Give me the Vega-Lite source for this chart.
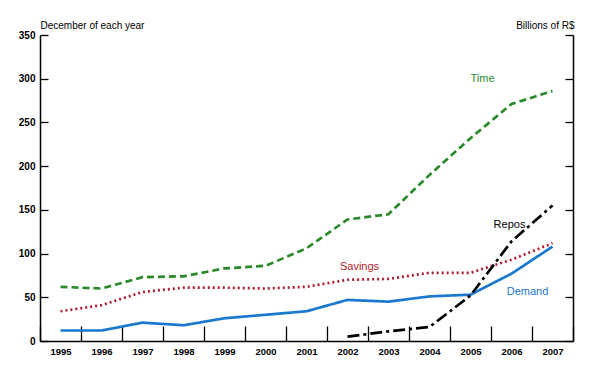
{
  "$schema": "https://vega.github.io/schema/vega-lite/v6.json",
  "width": 533,
  "height": 306,
  "autosize": "none",
  "padding": {"left": 40, "top": 35, "right": 27, "bottom": 24},
  "background": "white",
  "config": {
    "view": {"stroke": null},
    "font": "Liberation Sans",
    "axis": {"grid": false, "domainColor": "black", "domainWidth": 1.5, "tickColor": "black", "tickWidth": 1.3, "labelColor": "black", "labelFont": "Liberation Sans", "labelFontWeight": "bold", "labelFontSize": 10, "titleFont": "Liberation Sans", "titleFontWeight": "normal", "titleFontSize": 10, "titleColor": "black"}
  },
  "datasets": {
    "series": [
      {"year": "1995", "series": "Time", "value": 62},
      {"year": "1996", "series": "Time", "value": 60},
      {"year": "1997", "series": "Time", "value": 73},
      {"year": "1998", "series": "Time", "value": 74},
      {"year": "1999", "series": "Time", "value": 83},
      {"year": "2000", "series": "Time", "value": 86},
      {"year": "2001", "series": "Time", "value": 106},
      {"year": "2002", "series": "Time", "value": 139},
      {"year": "2003", "series": "Time", "value": 145},
      {"year": "2004", "series": "Time", "value": 190},
      {"year": "2005", "series": "Time", "value": 232},
      {"year": "2006", "series": "Time", "value": 271},
      {"year": "2007", "series": "Time", "value": 286},
      {"year": "1995", "series": "Savings", "value": 34},
      {"year": "1996", "series": "Savings", "value": 41},
      {"year": "1997", "series": "Savings", "value": 56},
      {"year": "1998", "series": "Savings", "value": 61},
      {"year": "1999", "series": "Savings", "value": 61},
      {"year": "2000", "series": "Savings", "value": 60},
      {"year": "2001", "series": "Savings", "value": 62},
      {"year": "2002", "series": "Savings", "value": 70},
      {"year": "2003", "series": "Savings", "value": 71},
      {"year": "2004", "series": "Savings", "value": 78},
      {"year": "2005", "series": "Savings", "value": 78},
      {"year": "2006", "series": "Savings", "value": 93},
      {"year": "2007", "series": "Savings", "value": 112},
      {"year": "1995", "series": "Demand", "value": 12},
      {"year": "1996", "series": "Demand", "value": 12},
      {"year": "1997", "series": "Demand", "value": 21},
      {"year": "1998", "series": "Demand", "value": 18},
      {"year": "1999", "series": "Demand", "value": 26},
      {"year": "2000", "series": "Demand", "value": 30},
      {"year": "2001", "series": "Demand", "value": 34},
      {"year": "2002", "series": "Demand", "value": 47},
      {"year": "2003", "series": "Demand", "value": 45},
      {"year": "2004", "series": "Demand", "value": 51},
      {"year": "2005", "series": "Demand", "value": 53},
      {"year": "2006", "series": "Demand", "value": 77},
      {"year": "2007", "series": "Demand", "value": 108},
      {"year": "2002", "series": "Repos", "value": 5},
      {"year": "2003", "series": "Repos", "value": 11},
      {"year": "2004", "series": "Repos", "value": 16},
      {"year": "2005", "series": "Repos", "value": 52},
      {"year": "2006", "series": "Repos", "value": 114},
      {"year": "2007", "series": "Repos", "value": 155}
    ]
  },
  "encoding": {
    "x": {
      "field": "year", "type": "ordinal",
      "scale": {"type": "band", "paddingInner": 0, "paddingOuter": 0},
      "bandPosition": 0.5,
      "axis": {"title": null, "labelAngle": 0, "tickBand": "extent", "tickSize": -15, "labelPadding": 20, "labelFontSize": 9.5}
    }
  },
  "layer": [
    {
      "data": {"name": "series"},
      "mark": {"type": "line", "strokeWidth": 2.7, "interpolate": "linear"},
      "encoding": {
        "y": {"field": "value", "type": "quantitative", "scale": {"domain": [0, 350], "nice": false},
          "axis": {"orient": "left", "values": [0, 50, 100, 150, 200, 250, 300, 350], "tickSize": -8, "labelPadding": 13, "title": "December of each year", "titleAngle": 0, "titleAlign": "left", "titleBaseline": "bottom", "titleX": 0, "titleY": -5}},
        "color": {"field": "series", "type": "nominal", "legend": null,
          "scale": {"domain": ["Time", "Savings", "Demand", "Repos"], "range": ["#2a8a2a", "#b01c2e", "#1a78cf", "#000000"]}},
        "strokeDash": {"field": "series", "type": "nominal", "legend": null,
          "scale": {"domain": ["Time", "Savings", "Demand", "Repos"], "range": [[7, 4], [2, 3], [1, 0], [12, 4, 3, 4]]}},
        "detail": {"field": "series"}
      }
    },
    {
      "data": {"name": "series"},
      "mark": {"type": "line", "opacity": 0},
      "encoding": {
        "y": {"field": "value", "type": "quantitative", "scale": {"domain": [0, 350], "nice": false},
          "axis": {"orient": "right", "values": [0, 50, 100, 150, 200, 250, 300, 350], "tickSize": -8, "labels": false, "title": "Billions of R$", "titleAngle": 0, "titleAlign": "right", "titleBaseline": "bottom", "titleX": 1, "titleY": -5}},
        "detail": {"field": "series"}
      }
    },
    {
      "data": {"values": [{"year": "2005", "value": 300, "label": "Time"}]},
      "mark": {"type": "text", "fontSize": 11, "color": "#2a8a2a", "dx": 12},
      "encoding": {"text": {"field": "label"}, "y": {"field": "value", "type": "quantitative", "axis": null}}
    },
    {
      "data": {"values": [{"year": "2002", "value": 85, "label": "Savings"}]},
      "mark": {"type": "text", "fontSize": 11, "color": "#b01c2e", "dx": 12},
      "encoding": {"text": {"field": "label"}, "y": {"field": "value", "type": "quantitative", "axis": null}}
    },
    {
      "data": {"values": [{"year": "2006", "value": 133, "label": "Repos"}]},
      "mark": {"type": "text", "fontSize": 11, "color": "#000000", "dx": -2},
      "encoding": {"text": {"field": "label"}, "y": {"field": "value", "type": "quantitative", "axis": null}}
    },
    {
      "data": {"values": [{"year": "2006", "value": 56, "label": "Demand"}]},
      "mark": {"type": "text", "fontSize": 11, "color": "#1a78cf", "dx": 16},
      "encoding": {"text": {"field": "label"}, "y": {"field": "value", "type": "quantitative", "axis": null}}
    }
  ],
  "resolve": {"axis": {"y": "independent"}}
}
